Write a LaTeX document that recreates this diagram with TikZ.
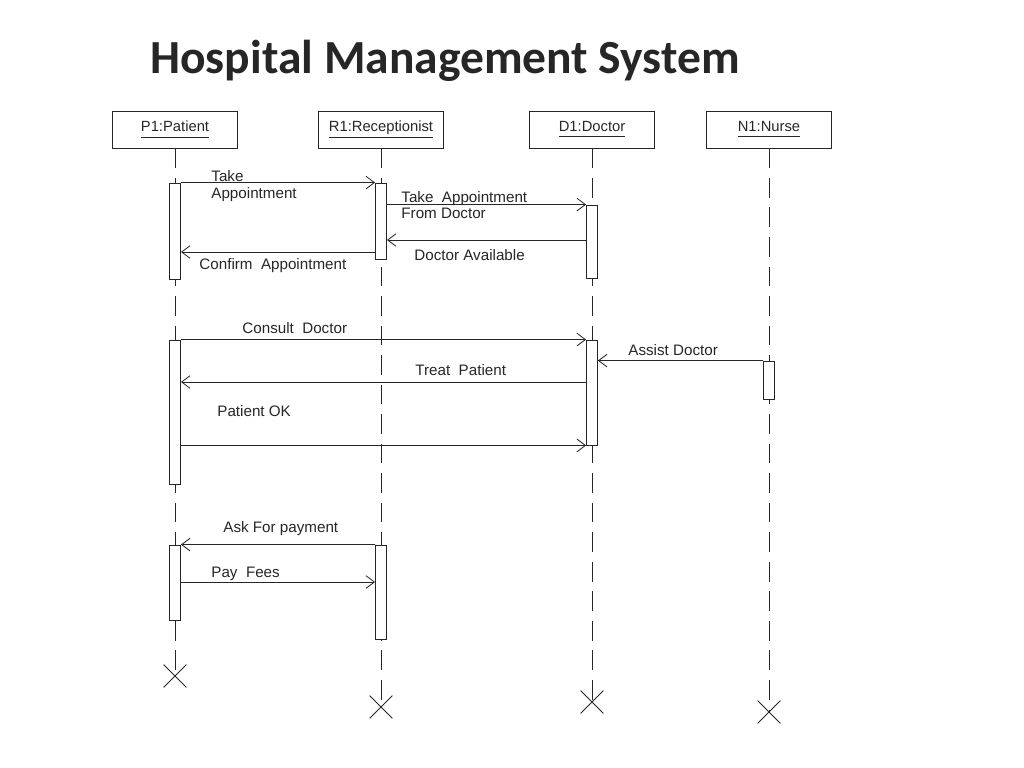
\documentclass[tikz,border=0pt]{standalone}
\usepackage{fontspec}
\setmainfont{Liberation Sans}
\newfontfamily\titlefont{Carlito}
\usetikzlibrary{arrows.meta}
\usetikzlibrary{shapes.misc}
\newcommand{\objname}[1]{\underline{#1\vphantom{Rp}}}
\tikzset{
  head/.style={draw, minimum width=3.125cm, minimum height=0.925cm,
    font=\fontsize{10.5}{12}\selectfont},
  bar/.style={draw, fill=white, minimum width=0.275cm, inner sep=0pt},
  lifeline/.style={dash pattern=on 14pt off 7pt},
  msg/.style={-{Straight Barb[length=6pt,width=9pt]}},
  lbl/.style={anchor=west, inner sep=0pt, align=left,
    font=\fontsize{10.8}{11.6}\selectfont},
  destroy/.style={cross out, draw, minimum size=0.55cm, inner sep=0pt}
}
\begin{document}
\begin{tikzpicture}[x=0.025cm, y=-0.025cm, line width=0.6pt, color=black!85]
\useasboundingbox (0,0) rectangle (1024,768);
\node (title) at (445,61)
  {\titlefont\bfseries\fontsize{33.8}{40}\selectfont Hospital Management System};
% objects
\node[head] (p) at (175,129.5) {\objname{P1:Patient}};
\node[head] (r) at (381,129.5) {\objname{R1:Receptionist}};
\node[head] (d) at (592,129.5) {\objname{D1:Doctor}};
\node[head] (n) at (769,129.5) {\objname{N1:Nurse}};
% ends
\node[destroy] (px) at (175,676) {};
\node[destroy] (rx) at (381,707) {};
\node[destroy] (dx) at (592,702) {};
\node[destroy] (nx) at (769,712) {};
\draw[lifeline] (p.south) -- (px.center);
\draw[lifeline] (r.south) -- (rx.center);
\draw[lifeline] (d.south) -- (dx.center);
\draw[lifeline] (n.south) -- (nx.center);
% activations
\node[bar, minimum height=2.4cm] (pa1) at (175,231) {};
\node[bar, minimum height=3.6cm] (pa2) at (175,412) {};
\node[bar, minimum height=1.875cm] (pa3) at (175,582.5) {};
\node[bar, minimum height=1.9cm] (ra1) at (381,221) {};
\node[bar, minimum height=2.35cm] (ra3) at (381,592) {};
\node[bar, minimum height=1.825cm] (da1) at (592,241.5) {};
\node[bar, minimum height=2.625cm] (da2) at (592,392.5) {};
\node[bar, minimum height=0.95cm] (na2) at (769,380) {};
% messages
\draw[msg] (pa1.north east) -- (ra1.north west);
\draw[msg] (ra1.east |- da1.north) -- (da1.north west);
\draw[msg] (da1.west |- 0,240) -- (ra1.east |- 0,240);
\draw[msg] (ra1.west |- 0,252) -- (pa1.east |- 0,252);
\draw[msg] (pa2.north east) -- (da2.north west);
\draw[msg] (na2.north west) -- (da2.east |- na2.north);
\draw[msg] (da2.west |- 0,382) -- (pa2.east |- 0,382);
\draw[msg] (pa2.east |- da2.south) -- (da2.south west);
\draw[msg] (ra3.north west) -- (pa3.north east);
\draw[msg] (pa3.east |- 0,582) -- (ra3.west |- 0,582);
% labels
\node[lbl] (m1) at (211,186) {Take\\Appointment};
\node[lbl] (m2) at (401,205) {Take\ \ Appointment\\From Doctor};
\node[lbl] (m3) at (414,255) {Doctor Available};
\node[lbl] (m4) at (199,266) {Confirm\ \ Appointment};
\node[lbl] (m5) at (242,328) {Consult\ \ Doctor};
\node[lbl] (m6) at (628,350) {Assist Doctor};
\node[lbl] (m7) at (415,370) {Treat\ \ Patient};
\node[lbl] (m8) at (217,411) {Patient OK};
\node[lbl] (m9) at (223,529) {Ask For payment};
\node[lbl] (m10) at (211,574) {Pay\ \ Fees};
\end{tikzpicture}
\end{document}
